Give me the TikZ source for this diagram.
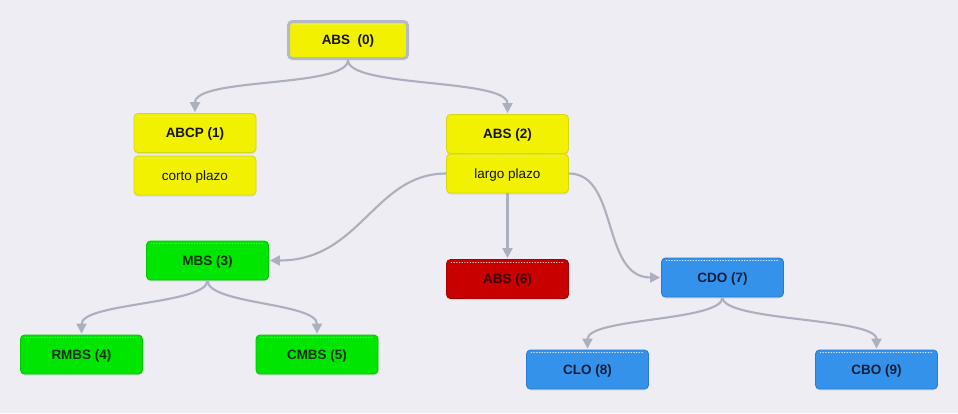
\documentclass[tikz,border=0pt]{standalone}
\usepackage{fontspec}
\setmainfont{Liberation Sans}
\usetikzlibrary{arrows.meta,shadows,calc}
\definecolor{bg}{RGB}{237,237,243}
\definecolor{yel}{RGB}{242,242,0}
\definecolor{yeld}{RGB}{214,214,20}
\definecolor{yelt}{RGB}{20,20,10}
\definecolor{grn}{RGB}{0,230,0}
\definecolor{grnd}{RGB}{0,196,0}
\definecolor{grnt}{RGB}{16,48,16}
\definecolor{rd}{RGB}{200,0,0}
\definecolor{rdd}{RGB}{165,0,0}
\definecolor{rdt}{RGB}{60,0,0}
\definecolor{blu}{RGB}{52,146,234}
\definecolor{blud}{RGB}{40,122,208}
\definecolor{blut}{RGB}{12,30,60}
\definecolor{selgray}{RGB}{182,184,198}
\definecolor{conn}{RGB}{172,175,190}
\tikzset{
  box/.style={rounded corners=4pt, minimum width=122pt, minimum height=39pt,
    inner sep=0pt, line width=0.8pt, text height=9.7pt, text depth=0pt,
    font=\fontsize{13.5}{16}\selectfont\bfseries,
    drop shadow={opacity=0.18, shadow xshift=0pt, shadow yshift=-1.5pt}},
  ybox/.style={box, fill=yel, draw=yeld, text=yelt},
  gbox/.style={box, fill=grn, draw=grnd, text=grnt},
  rbox/.style={box, fill=rd, draw=rdd, text=rdt},
  bbox/.style={box, fill=blu, draw=blud, text=blut},
  plain/.style={font=\fontsize{13.5}{16}\selectfont},
  link/.style={draw=conn, line width=2.1pt,
    -{Triangle[length=10pt,width=10pt]}, shorten >=1pt},
  hl/.style={dotted, line width=0.7pt, line cap=round}
}
\begin{document}
\begin{tikzpicture}[x=1pt,y=-1pt]
\fill[bg] (0,0) rectangle (958,413);
\useasboundingbox (0,0) rectangle (958,413);

\node[ybox, draw=selgray, line width=3pt, minimum width=119pt, minimum height=37pt] (n0) at (348,40) {ABS\ \ (0)};
\node[ybox] (n1) at (195,133) {ABCP (1)};
\node[ybox, plain] (n1b) at (195,175.5) {corto plazo};
\node[ybox] (n2) at (507.5,134) {ABS (2)};
\node[ybox, plain] (n2b) at (507.5,173.5) {largo plazo};
\node[gbox] (n3) at (207.5,260.5) {MBS (3)};
\node[rbox] (n6) at (507.5,279) {ABS (6)};
\node[bbox] (n7) at (722.5,277.5) {CDO (7)};
\node[gbox] (n4) at (81.5,354.5) {RMBS (4)};
\node[gbox] (n5) at (317,354.5) {CMBS (5)};
\node[bbox] (n8) at (587.5,369.5) {CLO (8)};
\node[bbox] (n9) at (876.5,369.5) {CBO (9)};

% dotted highlights near the top edge
\foreach \n in {n1, n1b, n2, n2b, n3, n4, n5}
  \draw[hl, draw=white, opacity=0.35] ([xshift=5pt,yshift=-3pt]\n.north west) -- ([xshift=-5pt,yshift=-3pt]\n.north east);
\draw[hl, draw=white, opacity=0.35] ([xshift=6pt,yshift=-4pt]n0.north west) -- ([xshift=-6pt,yshift=-4pt]n0.north east);
\foreach \n in {n6, n7, n8, n9}
  \draw[hl, draw=white, opacity=0.8] ([xshift=5pt,yshift=-3pt]\n.north west) -- ([xshift=-5pt,yshift=-3pt]\n.north east);

% connectors
\draw[link] (n0.south) .. controls +(0,28) and +(0,-36) .. (n1.north);
\draw[link] (n0.south) .. controls +(0,28) and +(0,-36) .. (n2.north);
\draw[link] (n2b.west) .. controls +(-72,0) and +(92,0) .. (n3.east);
\draw[link] (n2b.south) -- (n6.north);
\draw[link] (n2b.east) .. controls +(50,0) and +(-60,0) .. (n7.west);
\draw[link] (n3.south) .. controls +(0,24) and +(0,-32) .. (n4.north);
\draw[link] (n3.south) .. controls +(0,24) and +(0,-32) .. (n5.north);
\draw[link] (n7.south) .. controls +(0,24) and +(0,-32) .. (n8.north);
\draw[link] (n7.south) .. controls +(0,24) and +(0,-32) .. (n9.north);
\end{tikzpicture}
\end{document}
